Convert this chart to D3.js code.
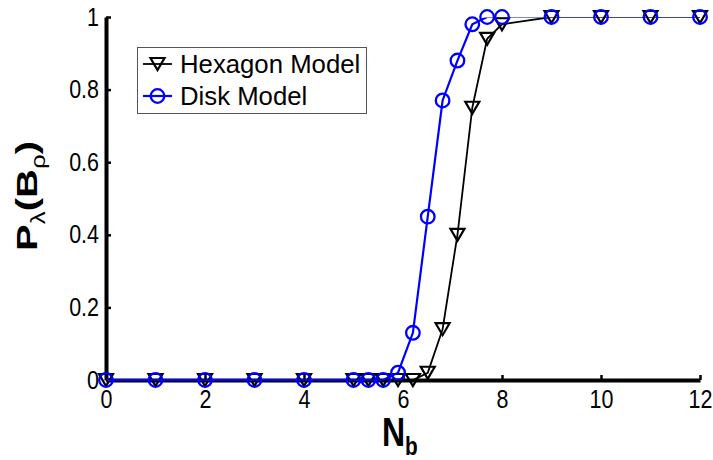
<!DOCTYPE html>
<html>
<head>
<meta charset="utf-8">
<script src="https://cdn.jsdelivr.net/npm/d3@7"></script>
<style>
  html, body { margin: 0; padding: 0; background: #fff; }
  svg { display: block; }
  text { font-family: "Liberation Sans", Arial, sans-serif; }
</style>
</head>
<body>
<svg id="chart" width="713" height="460"></svg>
<script>
// Number of beacons N_b and the probability P_λ(B_ρ) for both coverage models
const nb = [0, 1, 2, 3, 4, 5, 5.3, 5.6, 5.9, 6.2, 6.5, 6.8, 7.1, 7.4, 7.7, 8, 9, 10, 11, 12];
const hexagonModel = [0, 0, 0, 0, 0, 0, 0, 0, 0, 0, 0.02, 0.14, 0.40, 0.75, 0.94, 0.98, 1, 1, 1, 1];
const diskModel = [0, 0, 0, 0, 0, 0, 0, 0, 0.02, 0.13, 0.45, 0.77, 0.88, 0.98, 1, 1, 1, 1, 1, 1];
const xTicks = [0, 2, 4, 6, 8, 10, 12];
const yTicks = [0, 0.2, 0.4, 0.6, 0.8, 1];
const seriesNames = ["Hexagon Model", "Disk Model"];

const svg = d3.select("#chart");
const x = d3.scaleLinear().domain([0, 12]).range([106, 700]);
const y = d3.scaleLinear().domain([0, 1]).range([380, 17]);

// clip lines to the axes box (markers are left unclipped)
svg.append("clipPath").attr("id", "plotClip")
  .append("rect")
  .attr("x", x(0) - 2).attr("y", y(1) + 0.5)
  .attr("width", x(12) - x(0) + 4).attr("height", y(0) - y(1) + 20);

// axes
const xAxis = d3.axisBottom(x).tickValues(xTicks).tickFormat(d3.format("d"))
  .tickSizeInner(-5).tickSizeOuter(0).tickPadding(10);
const yAxis = d3.axisLeft(y).tickValues(yTicks)
  .tickFormat(d => d === 0 || d === 1 ? d3.format("d")(d) : d3.format(".1f")(d))
  .tickSizeInner(-5).tickSizeOuter(0).tickPadding(7);

const gx = svg.append("g").attr("transform", `translate(0,${y(0)})`).call(xAxis);
const gy = svg.append("g").attr("transform", `translate(${x(0)},0)`).call(yAxis);
[gx, gy].forEach(g => {
  g.select(".domain").attr("stroke", "#000").attr("stroke-width", 4);
  g.selectAll(".tick line").attr("stroke", "#000").attr("stroke-width", 2.5);
  g.selectAll(".tick text").attr("fill", "#000").style("font-size", "25px")
    .style("font-family", "'Liberation Sans', Arial, sans-serif");
});
// slightly narrow tick numerals
gx.selectAll(".tick text").attr("transform", "scale(0.86,1)");
gy.selectAll(".tick text").attr("x", -7 / 0.86).attr("transform", "scale(0.86,1)");

// axis labels
const xl = svg.append("text")
  .attr("transform", "translate(382,446) scale(0.8,1)")
  .attr("font-weight", "bold").attr("fill", "#000");
xl.append("tspan").style("font-size", "40px").text("N");
xl.append("tspan").style("font-size", "26px").attr("dy", 9).text("b");

const yl = svg.append("text")
  .attr("transform", "translate(37,196) scale(0.76,1) rotate(-90)")
  .attr("text-anchor", "middle").attr("font-weight", "bold").attr("fill", "#000");
yl.append("tspan").style("font-size", "40px").text("P");
yl.append("tspan").style("font-size", "26px").attr("font-weight", "normal").attr("dy", 10).text("λ");
yl.append("tspan").style("font-size", "40px").attr("dy", -10).text("(B");
yl.append("tspan").style("font-size", "26px").attr("font-weight", "normal").attr("dy", 10).text("ρ");
yl.append("tspan").style("font-size", "40px").attr("dy", -10).text(")");

// marker drawers
function triangle(g, cx, cy) {
  const w = 7, h = 6;
  g.append("path")
    .attr("d", `M${cx - w},${cy - h} L${cx + w},${cy - h} L${cx},${cy + h} Z`)
    .attr("fill", "none").attr("stroke", "#000").attr("stroke-width", 2.2);
}
function circle(g, cx, cy) {
  g.append("circle").attr("cx", cx).attr("cy", cy).attr("r", 6.8)
    .attr("fill", "none").attr("stroke", "#0000ff").attr("stroke-width", 2.3);
}

const series = [
  { name: seriesNames[0], values: hexagonModel, color: "#000", width: 1.8, marker: triangle },
  { name: seriesNames[1], values: diskModel, color: "#0000ff", width: 2.2, marker: circle }
];

const line = d3.line().x(d => x(d[0])).y(d => y(d[1]));

series.forEach(s => {
  const pts = nb.map((v, i) => [v, s.values[i]]);
  const g = svg.append("g");
  g.append("path").datum(pts).attr("d", line)
    .attr("clip-path", "url(#plotClip)")
    .attr("fill", "none").attr("stroke", s.color).attr("stroke-width", s.width);
  pts.forEach(p => s.marker(g, x(p[0]), y(p[1])));
});

// legend
const lg = svg.append("g");
lg.append("rect").attr("x", 137.5).attr("y", 47.5).attr("width", 229).attr("height", 66)
  .attr("fill", "#fff").attr("stroke", "#555").attr("stroke-width", 1);
series.forEach((s, i) => {
  const cy = 64 + i * 32;
  lg.append("line").attr("x1", 143).attr("x2", 172).attr("y1", cy).attr("y2", cy)
    .attr("stroke", s.color).attr("stroke-width", s.width);
  s.marker(lg, 157.5, cy);
  lg.append("text").attr("transform", `translate(180,${cy + 9}) scale(0.99,1)`)
    .style("font-size", "26px").attr("fill", "#000").text(s.name);
});
</script>
</body>
</html>
